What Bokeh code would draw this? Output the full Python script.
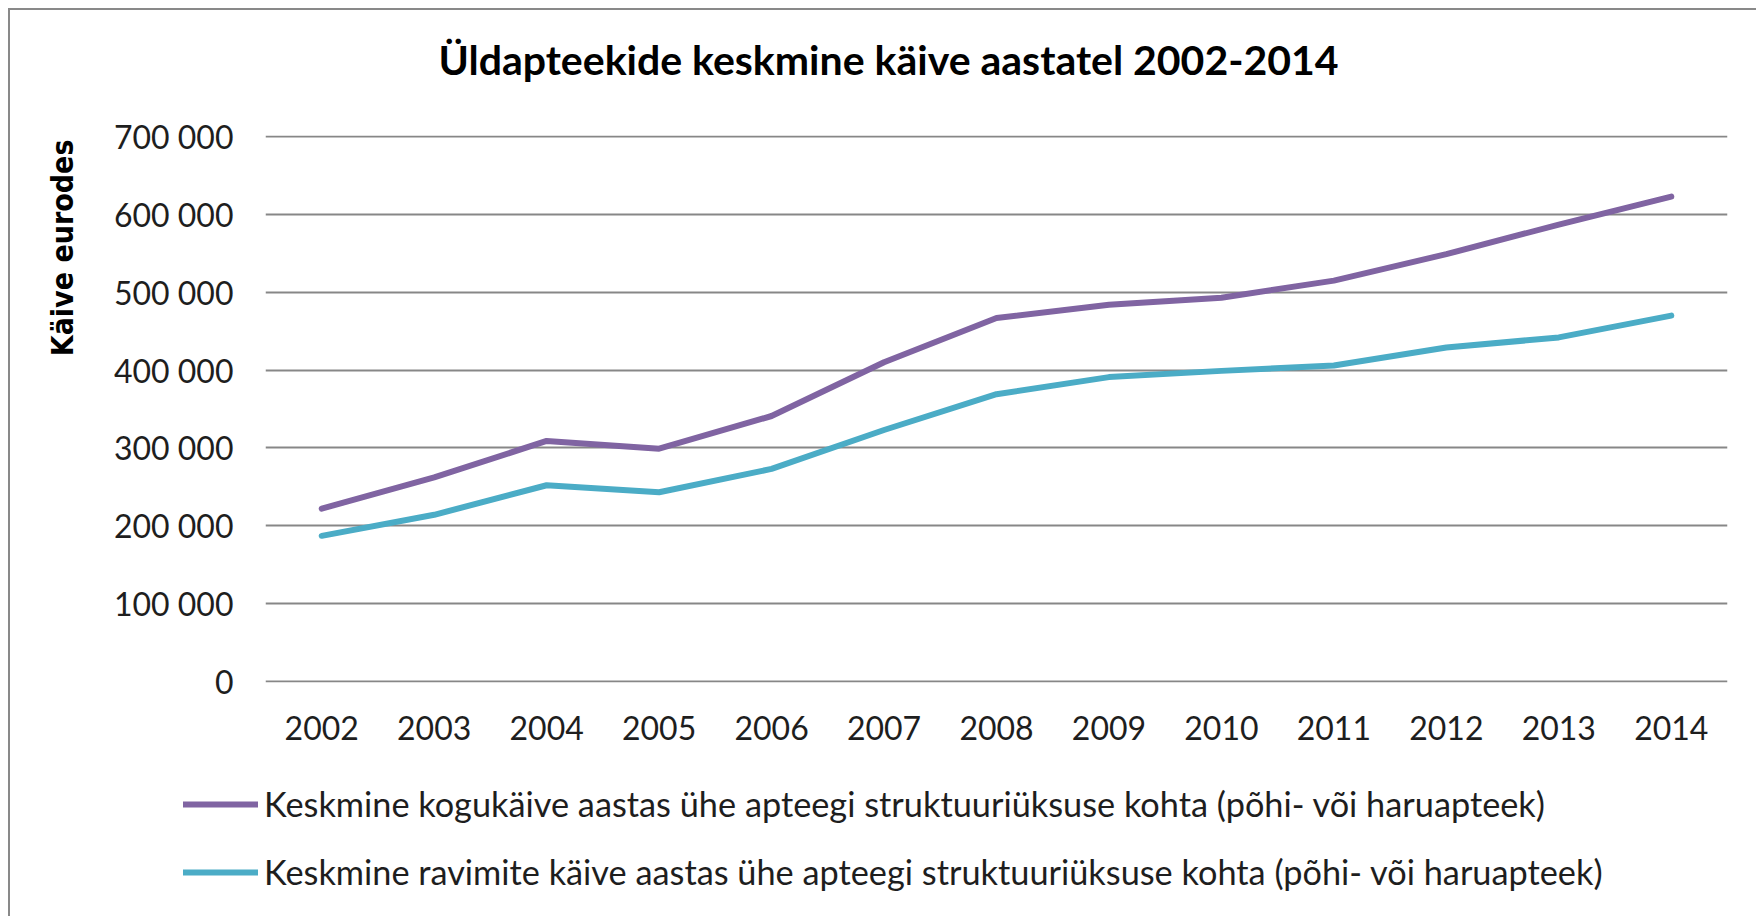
import math
from bokeh.plotting import figure
from bokeh.models import Legend, LegendItem, Title, Label, FactorRange, FixedTicker, Range1d
from bokeh.layouts import column, row
from bokeh.embed import file_html
from bokeh.resources import INLINE

years = ["2002", "2003", "2004", "2005", "2006", "2007", "2008",
         "2009", "2010", "2011", "2012", "2013", "2014"]
total_turnover = [222000, 262000, 309000, 299000, 341000, 410000, 467000,
                  484000, 493000, 515000, 549000, 587000, 623000]
medicine_turnover = [187000, 214000, 252000, 243000, 273000, 323000, 369000,
                     391000, 399000, 406000, 429000, 442000, 470000]
y_ticks = [0, 100000, 200000, 300000, 400000, 500000, 600000, 700000]
y_tick_labels = ["0", "100 000", "200 000", "300 000", "400 000",
                 "500 000", "600 000", "700 000"]
series_names = [
    "Keskmine kogukäive aastas ühe apteegi struktuuriüksuse kohta (põhi- või haruapteek)",
    "Keskmine ravimite käive aastas ühe apteegi struktuuriüksuse kohta (põhi- või haruapteek)",
]
title_text = "Üldapteekide keskmine käive aastatel 2002-2014"
y_title = "Käive eurodes"

PURPLE = "#8064A2"
CYAN = "#4BACC6"
TEXT = "#1e1e1e"
GRID = "#878787"
LW = 6

W = 1746
H0, H1, H2 = 105, 655, 146


def blank(height):
    f = figure(width=W, height=height, x_range=Range1d(0, 1), y_range=Range1d(0, 1),
               output_backend="svg", toolbar_location=None, title=None,
               x_axis_location=None, y_axis_location=None,
               min_border=0, min_border_left=0, min_border_right=0,
               min_border_top=0, min_border_bottom=0)
    f.grid.visible = False
    f.outline_line_color = None
    f.background_fill_color = "white"
    f.border_fill_color = "white"
    return f


# ---- title strip
p0 = blank(H0)
p0.add_layout(Label(x=623, y=56, x_units="screen", y_units="screen",
                    text=title_text, text_font="Lato", text_font_style="bold",
                    text_font_size="41px", text_color="black",
                    text_align="center", text_baseline="middle"))

# ---- main chart
p = figure(width=W, height=H1, title=None,
           x_range=FactorRange(*years, range_padding=0),
           y_range=Range1d(-1500, 701500),
           output_backend="svg", toolbar_location=None,
           min_border_left=255, min_border_right=29,
           min_border_top=20, min_border_bottom=88)
p.outline_line_color = None
p.background_fill_color = "white"
p.border_fill_color = "white"

p.line(years, total_turnover, line_width=LW, color=PURPLE,
       line_cap="round", line_join="round")
p.line(years, medicine_turnover, line_width=LW, color=CYAN,
       line_cap="round", line_join="round")

p.yaxis.ticker = FixedTicker(ticks=y_ticks)
p.yaxis.major_label_overrides = {t: l for t, l in zip(y_ticks, y_tick_labels)}
for ax in (p.xaxis[0], p.yaxis[0]):
    ax.axis_line_color = None
    ax.major_tick_line_color = None
    ax.minor_tick_line_color = None
    ax.major_tick_out = 0
    ax.major_tick_in = 0
    ax.major_label_text_font = "Lato"
    ax.major_label_text_font_size = "32px"
    ax.major_label_text_color = TEXT
p.yaxis.major_label_standoff = 32
p.xaxis.major_label_standoff = 33

p.xgrid.grid_line_color = None
p.ygrid.ticker = FixedTicker(ticks=y_ticks)
p.ygrid.grid_line_color = GRID
p.ygrid.grid_line_width = 2

p.add_layout(Title(text=y_title, align="right", offset=4, standoff=62,
                   text_font="DejaVu Sans Condensed", text_font_style="bold",
                   text_font_size="30px", text_color="black"), "left")

# ---- legend strip
p2 = blank(H2)
nan = [float("nan")]
l1 = p2.line(x=nan, y=nan, line_width=LW, color=PURPLE, line_cap="round")
l2 = p2.line(x=nan, y=nan, line_width=LW, color=CYAN, line_cap="round")
legend = Legend(items=[LegendItem(label=series_names[0], renderers=[l1]),
                       LegendItem(label=series_names[1], renderers=[l2])],
                location=(173, 24), orientation="vertical",
                label_text_font="Lato", label_text_font_size="34.3px",
                label_text_color=TEXT, label_height=40, glyph_height=40,
                glyph_width=75, label_standoff=6, spacing=27, padding=0,
                margin=0, border_line_color=None, background_fill_alpha=0)
p2.add_layout(legend)

layout = column(p0, p, row(p2), spacing=0,
                styles={"margin-left": "8px", "margin-top": "8px",
                        "border-left": "2px solid #898989",
                        "border-top": "2px solid #898989"})

open("out.html", "w").write(file_html(layout, INLINE))
